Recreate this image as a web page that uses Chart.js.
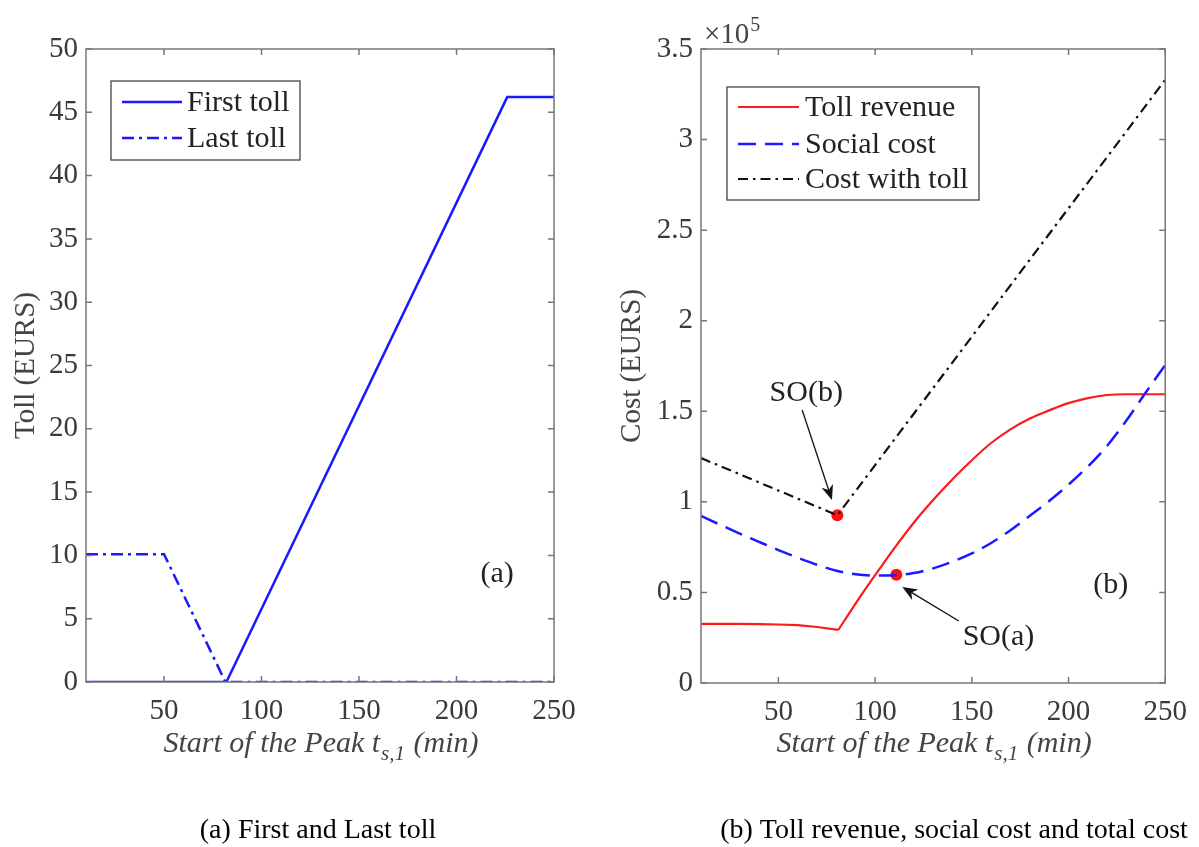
<!DOCTYPE html>
<html>
<head>
<meta charset="utf-8">
<script src="https://cdn.jsdelivr.net/npm/chart.js@4.4.0/dist/chart.umd.min.js"></script>
<style>
  html, body { margin: 0; padding: 0; background: #fff; }
  body { width: 1199px; height: 847px; position: relative; overflow: hidden; }
  canvas { position: absolute; top: 0; }
  #toll-chart { left: 0; }
  #cost-chart { left: 600px; }
</style>
</head>
<body>
<canvas id="toll-chart" width="600" height="847"></canvas>
<canvas id="cost-chart" width="599" height="847"></canvas>
<script>
// tick labels
const xTicks = [50, 100, 150, 200, 250];
const tollTicks = [0, 5, 10, 15, 20, 25, 30, 35, 40, 45, 50];
const costTicks = [0, 50000, 100000, 150000, 200000, 250000, 300000, 350000];

// (a) first / last toll, EURS vs start of the peak (min)
const firstTollX = [10, 82, 226, 250];
const firstTollY = [0, 0, 46.2, 46.2];
const lastTollX = [10, 50, 81.5, 250];
const lastTollY = [10.1, 10.1, 0, 0];

// (b) costs in EURS
const revenueX = [10, 20, 30, 40, 50, 60, 70, 81, 90, 100, 110, 120, 130, 140, 150, 160, 170, 180, 190, 200, 210, 220, 230, 240, 250];
const revenueY = [32600, 32600, 32600, 32500, 32300, 32000, 30900, 29300, 44000, 59500, 74500, 88500, 101000, 112500, 123000, 132500, 140000, 146000, 150500, 154500, 157300, 159000, 159400, 159400, 159400];
const revenueKink = 7; // index of the corner at t = 81
const socialX = [10, 20, 30, 40, 50, 60, 70, 80, 90, 100, 110, 120, 130, 140, 150, 160, 170, 180, 190, 200, 210, 220, 230, 240, 250];
const socialY = [92200, 87300, 82500, 77900, 73400, 69200, 65300, 62000, 60000, 59300, 59500, 60700, 63300, 67000, 71500, 77300, 84300, 92300, 100500, 109500, 119500, 131000, 145000, 160500, 175600];
const tollCostX = [10, 80.5, 250];
const tollCostY = [124200, 92600, 333000];
const optimumX = [80.5, 111];
const optimumY = [92600, 59800];

const SERIF = '"Liberation Serif", "Times New Roman", serif';
const TICK_COLOR = '#3a3a3a';
const AXIS_COLOR = '#777777';

function points(xs, ys) {
  return xs.map((x, i) => ({ x: x, y: ys[i] }));
}

// MATLAB-like box, inward ticks, boxed legend, labels and arrows
const matlabFrame = {
  id: 'matlabFrame',
  afterDraw(chart, args, opts) {
    const { ctx, chartArea: a } = chart;
    const xs = chart.scales.x;
    const ys = chart.scales.y;
    const L = 6;
    ctx.save();

    ctx.strokeStyle = AXIS_COLOR;
    ctx.lineWidth = 1.5;
    ctx.strokeRect(a.left, a.top, a.right - a.left, a.bottom - a.top);
    ctx.beginPath();
    xs.ticks.forEach(t => {
      const px = xs.getPixelForValue(t.value);
      ctx.moveTo(px, a.bottom); ctx.lineTo(px, a.bottom - L);
      ctx.moveTo(px, a.top); ctx.lineTo(px, a.top + L);
    });
    ys.ticks.forEach(t => {
      const py = ys.getPixelForValue(t.value);
      ctx.moveTo(a.left, py); ctx.lineTo(a.left + L, py);
      ctx.moveTo(a.right, py); ctx.lineTo(a.right - L, py);
    });
    ctx.stroke();

    // legend
    const lg = opts.legend;
    ctx.fillStyle = '#fff';
    ctx.fillRect(lg.x, lg.y, lg.w, lg.h);
    ctx.strokeStyle = '#444';
    ctx.lineWidth = 1.3;
    ctx.strokeRect(lg.x, lg.y, lg.w, lg.h);
    ctx.font = '30px ' + SERIF;
    ctx.textBaseline = 'middle';
    ctx.textAlign = 'left';
    chart.data.datasets.filter(d => d.label).forEach((d, i) => {
      const ry = lg.rows[i];
      ctx.strokeStyle = d.borderColor;
      ctx.lineWidth = d.borderWidth;
      ctx.setLineDash(d.borderDash || []);
      ctx.beginPath();
      ctx.moveTo(lg.lineX0, ry); ctx.lineTo(lg.lineX1, ry);
      ctx.stroke();
      ctx.setLineDash([]);
      ctx.fillStyle = '#222';
      ctx.fillText(d.label, lg.textX, ry + 1);
    });

    // notes placed in data coordinates
    ctx.fillStyle = '#222';
    ctx.textAlign = 'center';
    (opts.notes || []).forEach(n => {
      ctx.fillText(n.text, xs.getPixelForValue(n.x), ys.getPixelForValue(n.y));
    });

    (opts.arrows || []).forEach(ar => {
      const x0 = xs.getPixelForValue(ar.from[0]), y0 = ys.getPixelForValue(ar.from[1]);
      const x1 = xs.getPixelForValue(ar.to[0]), y1 = ys.getPixelForValue(ar.to[1]);
      const ang = Math.atan2(y1 - y0, x1 - x0);
      const hl = 15, hw = 6;
      ctx.strokeStyle = '#111';
      ctx.fillStyle = '#111';
      ctx.lineWidth = 1.3;
      ctx.beginPath();
      ctx.moveTo(x0, y0);
      ctx.lineTo(x1 - Math.cos(ang) * hl * 0.7, y1 - Math.sin(ang) * hl * 0.7);
      ctx.stroke();
      const bx = x1 - Math.cos(ang) * hl, by = y1 - Math.sin(ang) * hl;
      const mx = x1 - Math.cos(ang) * hl * 0.7, my = y1 - Math.sin(ang) * hl * 0.7;
      ctx.beginPath();
      ctx.moveTo(x1, y1);
      ctx.lineTo(bx - Math.sin(ang) * hw, by + Math.cos(ang) * hw);
      ctx.lineTo(mx, my);
      ctx.lineTo(bx + Math.sin(ang) * hw, by - Math.cos(ang) * hw);
      ctx.closePath();
      ctx.fill();
    });

    // x title with subscript
    const cx = (a.left + a.right) / 2;
    const bl = opts.xTitleBaseline;
    ctx.fillStyle = '#444';
    ctx.textBaseline = 'alphabetic';
    ctx.textAlign = 'left';
    const main = 'italic 30px ' + SERIF, small = 'italic 21px ' + SERIF;
    ctx.font = main;
    const p1 = 'Start of the Peak t', p3 = ' (min)', sub = 's,1';
    const w1 = ctx.measureText(p1).width, w3 = ctx.measureText(p3).width;
    ctx.font = small;
    const w2 = ctx.measureText(sub).width;
    let tx = cx - (w1 + w2 + w3) / 2;
    ctx.font = main;
    ctx.fillText(p1, tx, bl);
    ctx.font = small;
    ctx.fillText(sub, tx + w1 + 1, bl + 8);
    ctx.font = main;
    ctx.fillText(p3, tx + w1 + w2 + 2, bl);

    // y title
    ctx.save();
    ctx.translate(opts.yTitleX, (a.top + a.bottom) / 2);
    ctx.rotate(-Math.PI / 2);
    ctx.textAlign = 'center';
    ctx.textBaseline = 'middle';
    ctx.font = '29px ' + SERIF;
    ctx.fillText(opts.yTitle, 0, 0);
    ctx.restore();

    // exponent marker
    if (opts.exponent) {
      ctx.font = '29px ' + SERIF;
      ctx.fillStyle = '#444';
      ctx.textAlign = 'left';
      ctx.fillText('\u00d710', a.left + 3, a.top - 6);
      const wx = ctx.measureText('\u00d710').width;
      ctx.font = '20px ' + SERIF;
      ctx.fillText(opts.exponent, a.left + 4 + wx, a.top - 18);
    }

    // caption under the panel
    ctx.font = '28px ' + SERIF;
    ctx.fillStyle = '#000';
    ctx.textAlign = 'center';
    ctx.fillText(opts.caption, opts.captionX, opts.captionY);

    ctx.restore();
  }
};

function xAxis() {
  return {
    type: 'linear',
    min: 10,
    max: 250,
    afterBuildTicks: axis => { axis.ticks = xTicks.map(v => ({ value: v })); },
    afterFit: scale => { scale.height = 40; },
    grid: { display: false, drawTicks: false },
    border: { display: false },
    ticks: { color: TICK_COLOR, padding: 12, maxRotation: 0, font: { family: SERIF, size: 29 } }
  };
}

function yAxis(maxValue, tickValues, fmt) {
  return {
    type: 'linear',
    min: 0,
    max: maxValue,
    afterBuildTicks: axis => { axis.ticks = tickValues.map(v => ({ value: v })); },
    afterFit: scale => { scale.width = 50; },
    grid: { display: false, drawTicks: false },
    border: { display: false },
    ticks: { color: TICK_COLOR, padding: 8, font: { family: SERIF, size: 29 }, callback: fmt }
  };
}

function createTollChart() {
  const ctx = document.getElementById('toll-chart').getContext('2d');
  new Chart(ctx, {
    type: 'line',
    data: {
      datasets: [{
        label: 'First toll',
        data: points(firstTollX, firstTollY),
        borderColor: '#1a1aff',
        borderWidth: 2.5
      }, {
        label: 'Last toll',
        data: points(lastTollX, lastTollY),
        borderColor: '#1a1aff',
        borderWidth: 2.5,
        borderDash: [12, 5, 3, 5]
      }]
    },
    options: {
      responsive: false,
      animation: false,
      events: [],
      layout: { padding: { left: 36, right: 46, top: 49, bottom: 125 } },
      elements: { point: { radius: 0 }, line: { tension: 0 } },
      scales: {
        x: xAxis(),
        y: yAxis(50, tollTicks, v => String(v))
      },
      plugins: {
        legend: { display: false },
        tooltip: { enabled: false },
        matlabFrame: {
          legend: { x: 111, y: 81, w: 189, h: 79, rows: [102, 138], lineX0: 122, lineX1: 182, textX: 187 },
          notes: [{ text: '(a)', x: 220.8, y: 8.5 }],
          xTitleBaseline: 752,
          yTitle: 'Toll (EURS)',
          yTitleX: 26,
          caption: '(a) First and Last toll',
          captionX: 318,
          captionY: 838
        }
      }
    },
    plugins: [matlabFrame]
  });
}

function createCostChart() {
  const ctx = document.getElementById('cost-chart').getContext('2d');
  new Chart(ctx, {
    type: 'line',
    data: {
      datasets: [{
        label: 'Toll revenue',
        data: points(revenueX.slice(0, revenueKink + 1), revenueY.slice(0, revenueKink + 1)),
        borderColor: '#ff1a1a',
        borderWidth: 2.2
      }, {
        label: 'Social cost',
        data: points(socialX, socialY),
        borderColor: '#1a1aff',
        borderWidth: 2.5,
        borderDash: [18, 9],
        cubicInterpolationMode: 'monotone'
      }, {
        label: 'Cost with toll',
        data: points(tollCostX, tollCostY),
        borderColor: '#111111',
        borderWidth: 2.2,
        borderDash: [10, 5, 2.5, 5]
      }, {
        // rising part of the toll revenue, after the corner
        data: points(revenueX.slice(revenueKink), revenueY.slice(revenueKink)),
        borderColor: '#ff1a1a',
        borderWidth: 2.2,
        cubicInterpolationMode: 'monotone'
      }, {
        data: points(optimumX, optimumY),
        showLine: false,
        pointRadius: 6,
        pointBackgroundColor: '#ff1010',
        pointBorderWidth: 0
      }]
    },
    options: {
      responsive: false,
      animation: false,
      events: [],
      layout: { padding: { left: 51, right: 30, top: 49, bottom: 124 } },
      elements: { point: { radius: 0 }, line: { tension: 0 } },
      scales: {
        x: xAxis(),
        y: yAxis(350000, costTicks, v => String(v / 100000))
      },
      plugins: {
        legend: { display: false },
        tooltip: { enabled: false },
        matlabFrame: {
          legend: { x: 127, y: 87, w: 252, h: 113, rows: [107, 144, 179], lineX0: 138, lineX1: 199, textX: 205 },
          notes: [
            { text: '(b)', x: 221.8, y: 54100 },
            { text: 'SO(b)', x: 64.4, y: 160100 },
            { text: 'SO(a)', x: 163.8, y: 25400 }
          ],
          arrows: [
            { from: [62.3, 150700], to: [77.7, 101000] },
            { from: [143.3, 34200], to: [114.1, 53000] }
          ],
          xTitleBaseline: 752,
          yTitle: 'Cost (EURS)',
          yTitleX: 32,
          exponent: '5',
          caption: '(b) Toll revenue, social cost and total cost',
          captionX: 354,
          captionY: 838
        }
      }
    },
    plugins: [matlabFrame]
  });
}

document.addEventListener('DOMContentLoaded', () => {
  createTollChart();
  createCostChart();
});
</script>
</body>
</html>
